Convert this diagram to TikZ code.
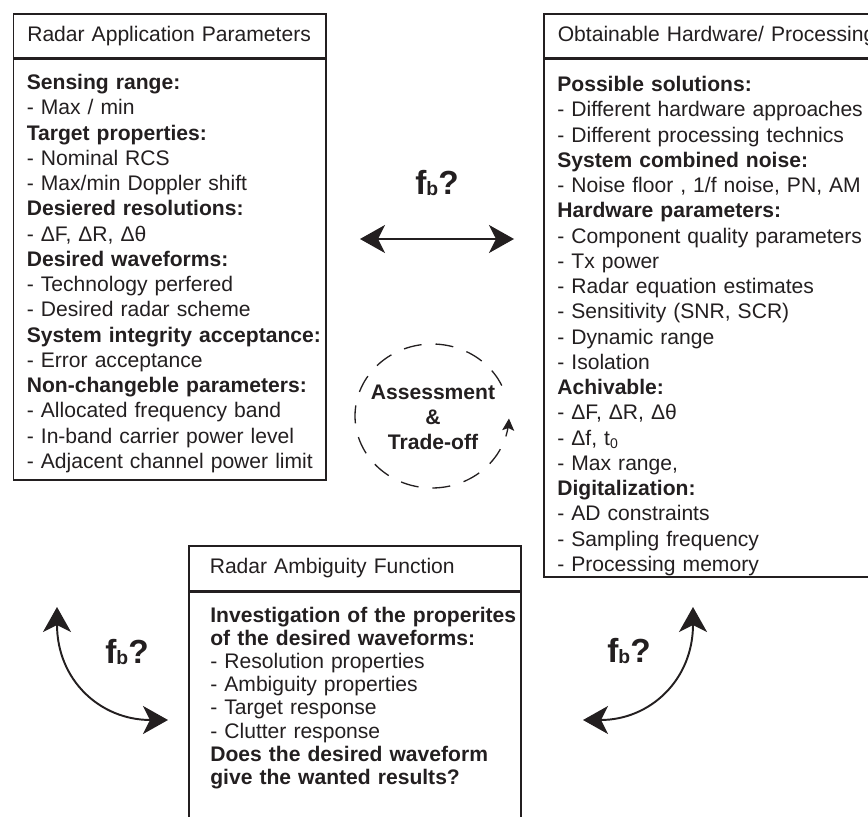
\documentclass[tikz,border=0pt]{standalone}
\usepackage{fontspec}
\setmainfont{Liberation Sans}
\usetikzlibrary{arrows.meta}
\definecolor{ink}{RGB}{35,31,32}

\newcommand{\fbq}{f\raisebox{-1pt}{\fontsize{11}{11}\selectfont b}?}

\begin{document}
\begin{tikzpicture}[x=0.02cm, y=-0.02cm,
  font=\fontsize{12}{14.4}\selectfont, text=ink,
  headbox/.style={draw=ink, line width=0.9pt, anchor=north west, minimum height=0.88cm, align=left, inner ysep=0pt},
  framebox/.style={draw=ink, line width=0.9pt, anchor=north west, inner sep=0pt},
  listtext/.style={anchor=north west, inner sep=0pt, align=left},
  fbarrow/.style={draw=ink, line width=1.1pt, >={Stealth[length=0.5cm, width=0.56cm, inset=0.14cm]}, <->},
  fblabel/.style={font=\fontsize{19}{22}\selectfont\bfseries, inner sep=0pt}
]
\useasboundingbox (0,0) rectangle (868,817);
\clip (0,0) rectangle (868,817);

% radar application parameters
\node[headbox, minimum width=6.25cm, text width=5.69cm, inner xsep=0.28cm] (apphead) at (12.5,13) {Radar Application Parameters};
\node[framebox, minimum width=6.25cm, minimum height=8.42cm] (appbox) at (apphead.south west) {};
\node[listtext, text width=5.9cm, font=\fontsize{12}{14.37}\selectfont] (applist) at ([xshift=0.28cm, yshift=-0.31cm]appbox.north west) {%
\textbf{Sensing range:}\\
- Max / min\\
\textbf{Target properties:}\\
- Nominal RCS\\
- Max/min Doppler shift\\
\textbf{Desiered resolutions:}\\
- ΔF, ΔR, Δθ\\
\textbf{Desired waveforms:}\\
- Technology perfered\\
- Desired radar scheme\\
\textbf{System integrity acceptance:}\\
- Error acceptance\\
\textbf{Non-changeble parameters:}\\
- Allocated frequency band\\
- In-band carrier power level\\
- Adjacent channel power limit};

% obtainable hardware / processing
\node[headbox, minimum width=7.4cm, text width=6.84cm, inner xsep=0.28cm] (hwhead) at (543,13) {Obtainable Hardware/ Processing};
\node[framebox, minimum width=7.4cm, minimum height=10.36cm] (hwbox) at (hwhead.south west) {};
\node[listtext, text width=6.8cm, font=\fontsize{12}{14.37}\selectfont] (hwlist) at ([xshift=0.28cm, yshift=-0.35cm]hwbox.north west) {%
\textbf{Possible solutions:}\\
- Different hardware approaches\\
- Different processing technics\\
\textbf{System combined noise:}\\
- Noise floor , 1/f noise, PN, AM\\
\textbf{Hardware parameters:}\\
- Component quality parameters\\
- Tx power\\
- Radar equation estimates\\
- Sensitivity (SNR, SCR)\\
- Dynamic range\\
- Isolation\\
\textbf{Achivable:}\\
- ΔF, ΔR, Δθ\\
- Δf, t\textsubscript{0}\\
- Max range,\\
\textbf{Digitalization:}\\
- AD constraints\\
- Sampling frequency\\
- Processing memory};

% radar ambiguity function
\node[headbox, minimum width=6.64cm, text width=5.8cm, inner xsep=0.4cm, minimum height=0.9cm] (afhead) at (188,545) {Radar Ambiguity Function};
\node[framebox, minimum width=6.64cm, minimum height=5.6cm] (afbox) at (afhead.south west) {};
\node[listtext, text width=6.2cm, font=\fontsize{12}{13.2}\selectfont] (aflist) at ([xshift=0.44cm, yshift=-0.3cm]afbox.north west) {%
\textbf{Investigation of the properites}\\
\textbf{of the desired waveforms:}\\
- Resolution properties\\
- Ambiguity properties\\
- Target response\\
- Clutter response\\
\textbf{Does the desired waveform}\\
\textbf{give the wanted results?}};

% assessment loop
\node[align=center, font=\fontsize{12}{14.3}\selectfont\bfseries, inner sep=0pt] (assess) at (433,417) {Assessment\\\&\\Trade-off};
\draw[ink, line width=0.75pt, dash pattern=on 0.36cm off 0.28cm, -{Stealth[length=0.24cm, width=0.24cm, inset=0.05cm]}]
  plot[domain=25:358, samples=120] ({432+77*cos(\x)}, {416-72*sin(\x)});

% f_b arrows
\coordinate (hl) at (360,239);
\coordinate (hr) at (514,239);
\draw[fbarrow] (hl) -- (hr);
\node[fblabel] (fbtop) at (437,183) {\fbq};

\coordinate (lt) at (57,607);
\coordinate (lb) at (168,720);
\draw[fbarrow] (lt) .. controls (57,680) and (100,720) .. (lb);
\node[fblabel] (fbleft) at (127,652) {\fbq};

\coordinate (rt) at (693,607);
\coordinate (rb) at (583,720);
\draw[fbarrow] (rt) .. controls (693,680) and (650,720) .. (rb);
\node[fblabel] (fbright) at (629,651) {\fbq};
\end{tikzpicture}
\end{document}
